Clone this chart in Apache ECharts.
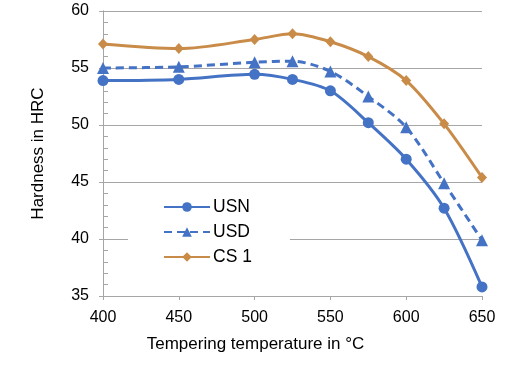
<!DOCTYPE html>
<html><head><meta charset="utf-8">
<script src="https://cdn.jsdelivr.net/npm/echarts@6/dist/echarts.min.js"></script>
<style>html,body{margin:0;padding:0;background:#fff}#c{width:528px;height:365px}</style>
</head><body><div id="c"></div>
<script>
const temps = [400, 450, 500, 525, 550, 575, 600, 625, 650];
const usn = [53.9, 54.0, 54.45, 54.0, 53.0, 50.2, 47.0, 42.7, 35.8];
const usd = [55.0, 55.1, 55.5, 55.6, 54.7, 52.5, 49.8, 44.9, 39.9];
const cs1 = [57.1, 56.7, 57.5, 58.0, 57.3, 56.0, 53.9, 50.1, 45.4];
const seriesNames = ['USN', 'USD', 'CS 1'];
const xTitle = 'Tempering temperature in °C';
const yTitle = 'Hardness in HRC';

const pair = arr => temps.map((t, i) => [t, arr[i]]);
const blue = '#4472C4', orange = '#C98B48';
const font = 'Liberation Sans, Arial, sans-serif';
const chart = echarts.init(document.getElementById('c'));
chart.setOption({
  animation: false,
  backgroundColor: '#fff',
  grid: { left: 103, right: 46, top: 11, bottom: 69 },
  legend: {
    left: 128, top: 190, orient: 'vertical',
    backgroundColor: '#fff',
    padding: [8, 38, 8, 35],
    itemGap: 7, itemWidth: 46, itemHeight: 12,
    textStyle: { fontFamily: font, fontSize: 17.5, color: '#000', padding: [0, 0, 0, -2] },
    data: seriesNames
  },
  xAxis: {
    type: 'value', min: 400, max: 650, interval: 50,
    name: xTitle, nameLocation: 'middle', nameGap: 40,
    nameTextStyle: { fontFamily: font, fontSize: 17, color: '#000', padding: [0, 74, 0, 0] },
    axisLine: { lineStyle: { color: '#a6a6a6', width: 1 } },
    axisTick: { show: true, length: 4, lineStyle: { color: '#a6a6a6' } },
    axisLabel: { fontFamily: font, fontSize: 16, color: '#000', margin: 14 },
    splitLine: { show: false }
  },
  yAxis: [{
    type: 'value', min: 35, max: 60, interval: 5,
    name: yTitle, nameLocation: 'middle', nameGap: 56,
    nameTextStyle: { fontFamily: font, fontSize: 17, color: '#000' },
    axisLine: { show: true, lineStyle: { color: '#a6a6a6', width: 1 } },
    axisTick: { show: true, length: 4, lineStyle: { color: '#a6a6a6' } },
    axisLabel: { fontFamily: font, fontSize: 16, color: '#000', margin: 14 },
    splitLine: { show: true, lineStyle: { color: '#a6a6a6', width: 1 } }
  }, {
    type: 'value', min: 35, max: 60, interval: 1, position: 'left',
    axisLine: { show: true, lineStyle: { color: '#a6a6a6', width: 1 } },
    axisTick: { show: true, inside: true, length: 5, lineStyle: { color: '#a6a6a6' } },
    axisLabel: { show: false },
    splitLine: { show: false }
  }],
  series: [{
    name: 'USN', type: 'line', data: pair(usn), smooth: 0.3,
    symbol: 'circle', symbolSize: 11,
    itemStyle: { color: blue }, lineStyle: { color: blue, width: 3 }
  }, {
    name: 'USD', type: 'line', data: pair(usd), smooth: 0.3,
    symbol: 'triangle', symbolSize: 12,
    itemStyle: { color: blue }, lineStyle: { color: blue, width: 3, type: [8, 5] }
  }, {
    name: 'CS 1', type: 'line', data: pair(cs1), smooth: 0.3,
    symbol: 'diamond', symbolSize: [10, 11],
    itemStyle: { color: orange }, lineStyle: { color: orange, width: 3 }
  }]
});
</script></body></html>
